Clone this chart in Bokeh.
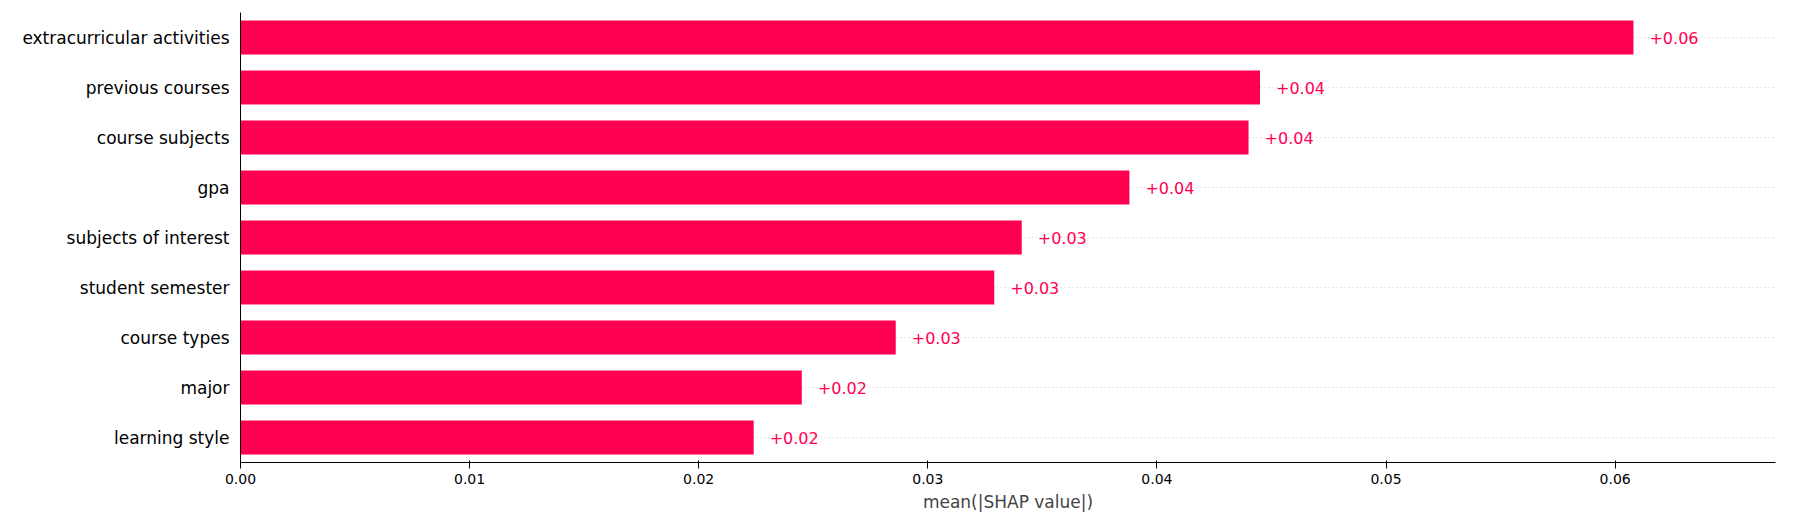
from bokeh.plotting import figure
from bokeh.models import ColumnDataSource, FixedTicker, NumeralTickFormatter
from bokeh.core.properties import value
from bokeh.embed import file_html
from bokeh.resources import INLINE

features = ["extracurricular activities", "previous courses", "course subjects", "gpa",
            "subjects of interest", "student semester", "course types", "major", "learning style"]
values = [0.0608, 0.0445, 0.0440, 0.0388, 0.0341, 0.0329, 0.0286, 0.0245, 0.0224]
labels = ["+0.06", "+0.04", "+0.04", "+0.04", "+0.03", "+0.03", "+0.03", "+0.02", "+0.02"]
ticks = [0.0, 0.01, 0.02, 0.03, 0.04, 0.05, 0.06]

F = "DejaVu Sans"
src = ColumnDataSource(dict(f=features, v=values, lab=labels))
p = figure(width=1783, height=514, y_range=list(reversed(features)), x_range=(0, 0.067),
           output_backend="svg", toolbar_location=None, min_border_left=240, min_border_right=8,
           min_border_top=12, x_axis_label="mean(|SHAP value|)")
p.hbar(y="f", right="v", left=0, height=0.68, source=src, color="#ff0051", line_color=None)
p.text(x="v", y="f", text="lab", source=src, x_offset=16, text_baseline="middle",
       text_color="#ff0051", text_font_size="16px", text_font=value(F))
p.outline_line_color = None
p.xgrid.visible = False
p.ygrid.grid_line_color = "#cccccc"
p.ygrid.grid_line_dash = "1 3"
p.xaxis.ticker = FixedTicker(ticks=ticks)
p.xaxis.formatter = NumeralTickFormatter(format="0.00")
p.xaxis.major_label_text_font_size = "14px"
p.xaxis.axis_label_text_font_size = "17px"
p.xaxis.axis_label_text_font_style = "normal"
p.xaxis.minor_tick_line_color = None
p.yaxis.major_label_text_font_size = "17px"
p.yaxis.major_tick_line_color = None
p.yaxis.minor_tick_line_color = None
p.axis.major_label_text_font = F
p.axis.axis_label_text_font = F
p.axis.axis_line_color = "black"
p.axis.major_label_text_color = "black"
open("out.html", "w").write(file_html(p, INLINE))
